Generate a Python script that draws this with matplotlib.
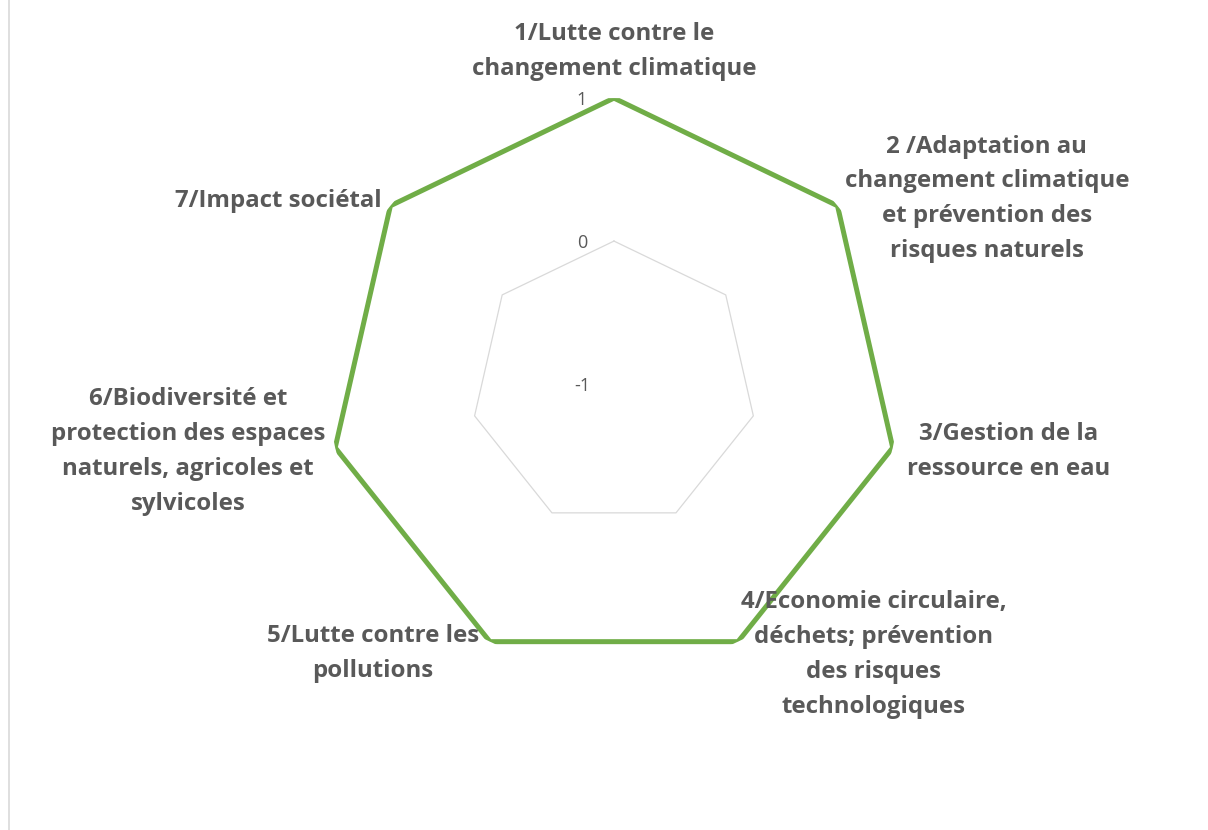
import numpy as np
import matplotlib
matplotlib.use("Agg")
import matplotlib.pyplot as plt
from matplotlib.lines import Line2D

# axis names, one per spoke, clockwise from the top
categories = [
    "1/Lutte contre le\nchangement climatique",
    "2 /Adaptation au\nchangement climatique\net prévention des\nrisques naturels",
    "3/Gestion de la\nressource en eau",
    "4/Economie circulaire,\ndéchets; prévention\ndes risques\ntechnologiques",
    "5/Lutte contre les\npollutions",
    "6/Biodiversité et\nprotection des espaces\nnaturels, agricoles et\nsylvicoles",
    "7/Impact sociétal",
]
values = [1, 1, 1, 1, 1, 1, 1]
r_ticks = [-1, 0, 1]
r_tick_labels = ["-1", "0", "1"]

# label placement (offset in pixels from the vertex, alignment)
label_offsets = [(0, 47), (7, 7), (14, -4), (3, -13), (-11, -12), (-10, -4), (-9, 5)]
label_ha = ["center", "left", "left", "left", "right", "right", "right"]

text_color = "#595959"
grid_color = "#D9D9D9"
line_color = "#70AD47"
plt.rcParams["font.family"] = ["Open Sans", "DejaVu Sans"]

n = len(categories)
angles = np.linspace(0, 2 * np.pi, n, endpoint=False)
angles_closed = np.append(angles, angles[0])

fig = plt.figure(figsize=(12.08, 8.3), dpi=100)
ax = fig.add_axes([0.2715, 0.1928, 0.4735, 0.689], projection="polar")
ax.set_theta_offset(np.pi / 2)
ax.set_theta_direction(-1)
ax.set_ylim(r_ticks[0], r_ticks[-1])
ax.grid(False)
ax.spines["polar"].set_visible(False)
ax.set_xticks([])
ax.set_yticks([])
ax.patch.set_alpha(0)

# polygon gridlines (the middle one is the only visible one)
for r in r_ticks[1:]:
    ax.plot(angles_closed, [r] * (n + 1), color=grid_color, lw=0.9, zorder=1)

# tick labels just left of the top spoke
for r, lab in zip(r_ticks, r_tick_labels):
    ax.annotate(lab, xy=(0, r), xytext=(-32, -2), textcoords="offset pixels",
                ha="center", va="center", fontsize=13, color=text_color)

# the data series
vals_closed = values + values[:1]
ax.plot(angles_closed, vals_closed, color=line_color, lw=3.6, zorder=3,
        solid_joinstyle="miter")

# category labels
for ang, lab, off, ha in zip(angles, categories, label_offsets, label_ha):
    ax.annotate(lab, xy=(ang, r_ticks[-1]), xytext=off, textcoords="offset pixels",
                ha=ha, va="center", multialignment="center", fontsize=17.3,
                fontweight="bold", color=text_color, linespacing=1.6, zorder=4)

# thin border on the left edge
fig.add_artist(Line2D([8.5 / 1208, 8.5 / 1208], [0, 1], color=grid_color, lw=1.2))

fig.savefig("out.png", dpi=100, facecolor="white")
